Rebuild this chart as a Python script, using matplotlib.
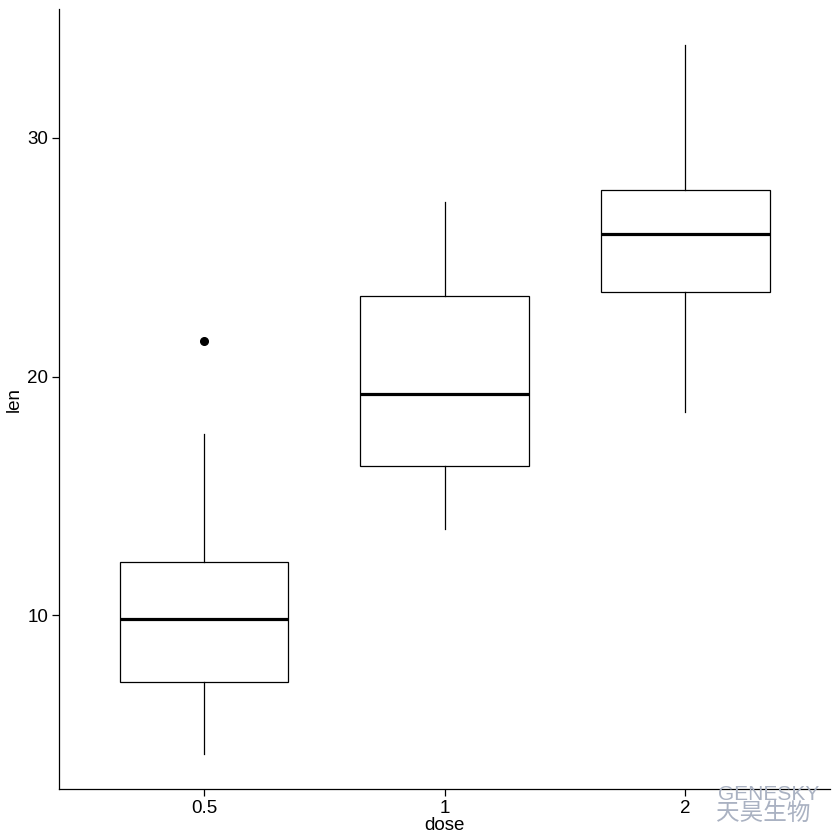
import matplotlib
matplotlib.use("Agg")
import matplotlib.pyplot as plt
import numpy as np

# ToothGrowth: tooth length by vitamin C dose
doses = ["0.5", "1", "2"]
len_05 = [4.2, 11.5, 7.3, 5.8, 6.4, 10.0, 11.2, 11.2, 5.2, 7.0,
          15.2, 21.5, 17.6, 9.7, 14.5, 10.0, 8.2, 9.4, 16.5, 9.7]
len_1 = [16.5, 16.5, 15.2, 17.3, 22.5, 17.3, 13.6, 14.5, 18.8, 15.5,
         19.7, 23.3, 23.6, 26.4, 20.0, 25.2, 25.8, 21.2, 14.5, 27.3]
len_2 = [23.6, 18.5, 33.9, 25.5, 26.4, 32.5, 26.7, 21.5, 23.3, 29.5,
         25.5, 26.4, 22.4, 24.5, 24.8, 30.9, 26.4, 27.3, 29.4, 23.0]
y_ticks = [10, 20, 30]

plt.rcParams['font.family'] = ['Liberation Sans', 'DejaVu Sans']

fig = plt.figure(figsize=(8.4, 8.4), dpi=100)
ax = fig.add_axes([0.0708, 0.0605, 0.9172, 0.9285])

groups = [len_05, len_1, len_2]
ax.boxplot(groups, positions=range(len(groups)), widths=0.7, whis=1.5,
           patch_artist=True, manage_ticks=False,
           boxprops=dict(facecolor='white', edgecolor='black', linewidth=0.9),
           medianprops=dict(color='black', linewidth=2.3),
           whiskerprops=dict(color='black', linewidth=0.9),
           capprops=dict(linewidth=0),
           flierprops=dict(marker='o', markersize=5.5, markerfacecolor='black',
                           markeredgecolor='black'))

allv = np.concatenate(groups)
lo, hi = allv.min(), allv.max()
pad = (hi - lo) * 0.05
ax.set_ylim(lo - pad, hi + pad)
ax.set_xlim(-0.6, len(groups) - 1 + 0.6)

ax.set_xticks(range(len(doses)))
ax.set_xticklabels(doses)
ax.set_yticks(y_ticks)
ax.tick_params(axis='both', length=5, width=0.9, labelsize=13.5, pad=3, colors='black')

for s in ['top', 'right']:
    ax.spines[s].set_visible(False)
for s in ['left', 'bottom']:
    ax.spines[s].set_linewidth(0.9)

ax.set_xlabel('dose', fontsize=13.5, labelpad=0)
ax.set_ylabel('len', fontsize=13.5, labelpad=3)

# watermark
fig.text(0.855, 0.0536, 'GENESKY', color='#aab2c2', fontsize=15, ha='left', va='center')
fig.text(0.852, 0.031, '天昊生物', color='#aab2c2', fontsize=17, ha='left', va='center',
         family=['Noto Sans CJK SC', 'DejaVu Sans'])

fig.savefig('out.png', dpi=100)
